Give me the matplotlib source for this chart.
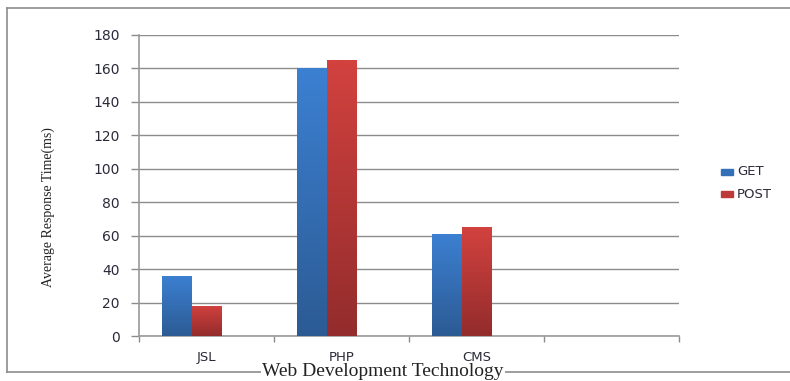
import matplotlib
matplotlib.use('Agg')
import matplotlib.pyplot as plt
import numpy as np
from matplotlib.colors import LinearSegmentedColormap
from matplotlib.lines import Line2D

categories = ['JSL', 'PHP', 'CMS', '']
get_ms = [36, 160, 61]
post_ms = [18, 165, 65]
y_ticks = [0, 20, 40, 60, 80, 100, 120, 140, 160, 180]

W, H = 790, 381
fig = plt.figure(figsize=(W / 100, H / 100), dpi=100)
ax = fig.add_axes([139 / W, 45 / H, 540 / W, 301 / H])

# outer frame (open on the right side)
frame = dict(color='#8c8c8c', lw=1.2, transform=fig.transFigure)
fig.add_artist(Line2D([7 / W, 1.0], [1 - 8 / H, 1 - 8 / H], **frame))
fig.add_artist(Line2D([7 / W, 7 / W], [1 - 8 / H, 1 - 372 / H], **frame))
fig.add_artist(Line2D([7 / W, 1.0], [1 - 372 / H, 1 - 372 / H], **frame))

bw = 0.22
x = np.arange(len(get_ms)) + 0.5

blue_cm = LinearSegmentedColormap.from_list('b', ['#2c5b94', '#3c80d2'])
red_cm = LinearSegmentedColormap.from_list('r', ['#932c2c', '#d2423f'])


def gradient_bars(xs, vals, cmap):
    bars = ax.bar(xs, vals, bw, color='none', edgecolor='none', zorder=3)
    grad = np.linspace(0, 1, 256).reshape(-1, 1)
    for b in bars:
        x0, y0 = b.get_x(), b.get_y()
        w, h = b.get_width(), b.get_height()
        im = ax.imshow(grad, cmap=cmap, aspect='auto', origin='lower',
                       extent=[x0, x0 + w, y0, y0 + h], zorder=3)
        im.set_clip_path(b)
    return bars


gradient_bars(x - bw, get_ms, blue_cm)
gradient_bars(x, post_ms, red_cm)

ax.set_xlim(0, 4)
ax.set_ylim(0, 180)
ax.set_yticks(y_ticks)
ax.set_yticklabels([str(v) for v in y_ticks], fontsize=10, color='#2a2a3a')
ax.set_xticks(np.arange(0, 5))
ax.set_xticklabels([])
ax.set_xticks(np.arange(4) + 0.5, minor=True)
ax.set_xticklabels(categories, minor=True, fontsize=9.5, color='#2a2a3a')
ax.tick_params(axis='x', which='minor', length=0, pad=11)
ax.tick_params(axis='x', which='major', length=4, color='#8c8c8c', width=1)
ax.tick_params(axis='y', length=6, color='#8c8c8c', width=1, pad=8)

ax.yaxis.grid(True, color='#8c8c8c', lw=1)
ax.set_axisbelow(True)
for s in ['top', 'right']:
    ax.spines[s].set_visible(False)
for s in ['left', 'bottom']:
    ax.spines[s].set_color('#9a9a9a')
    ax.spines[s].set_linewidth(1.2)

fig.text(48 / W, 1 - 207 / H, 'Average Response Time(ms)', rotation=90,
         ha='center', va='center', family='Liberation Serif', fontsize=10,
         color='#222222')
fig.text(383 / W, 0.002, 'Web Development Technology', ha='center',
         va='bottom', family='Liberation Serif', fontsize=14, color='#222222',
         bbox=dict(facecolor='white', edgecolor='none', pad=0.5))

# legend
for yy, label, c in [(172, 'GET', '#3470b8'), (194, 'POST', '#be3a38')]:
    fig.patches.append(plt.Rectangle((721 / W, 1 - (yy + 3) / H), 12 / W, 6 / H,
                                     transform=fig.transFigure, color=c))
    fig.text(737 / W, 1 - yy / H, label, ha='left', va='center',
             fontsize=9.5, color='#2a2a3a')

fig.savefig('out.png', dpi=100)
